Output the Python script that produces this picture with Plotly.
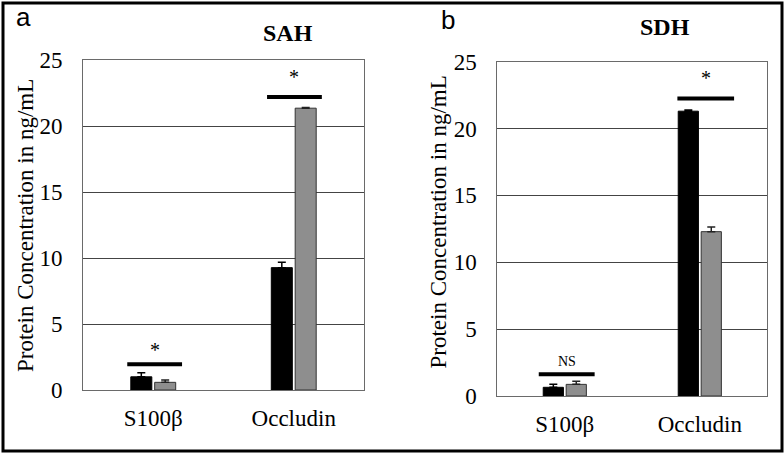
import plotly.graph_objects as go

# ---------------- data ----------------
categories = ["S100β", "Occludin"]

sah_black = [1.0, 9.27]
sah_black_err = [0.30, 0.40]
sah_gray = [0.58, 21.35]
sah_gray_err = [0.18, 0.05]

sdh_black = [0.65, 21.30]
sdh_black_err = [0.22, 0.08]
sdh_gray = [0.87, 12.29]
sdh_gray_err = [0.23, 0.35]

y_ticks = [0, 5, 10, 15, 20, 25]

# significance markers
sah_sig_level = [1.95, 22.2]
sah_sig_text = ["*", "*"]
sdh_sig_level = [1.62, 22.24]
sdh_sig_text = ["NS", "*"]

y_title = "Protein Concentration in ng/mL"

# ---------------- figure ----------------
W, H = 784, 455
SERIF = "Liberation Serif"
SANS = "Liberation Sans"
BLACK = "#000000"
GRAY = "#8e8e8e"

fig = go.Figure()


def add_bars(xa, ya, black, black_err, gray, gray_err):
    fig.add_trace(go.Bar(
        x=categories, y=black, xaxis=xa, yaxis=ya,
        marker=dict(color=BLACK, line=dict(color=BLACK, width=1)),
        error_y=dict(type="data", symmetric=False, array=black_err,
                     arrayminus=[0] * len(black_err), color=BLACK,
                     thickness=1.5, width=4),
        showlegend=False, offsetgroup="1", hoverinfo="skip",
    ))
    fig.add_trace(go.Bar(
        x=categories, y=gray, xaxis=xa, yaxis=ya,
        marker=dict(color=GRAY, line=dict(color="#333333", width=1)),
        error_y=dict(type="data", symmetric=False, array=gray_err,
                     arrayminus=[0] * len(gray_err), color="#222222",
                     thickness=1.5, width=4),
        showlegend=False, offsetgroup="2", hoverinfo="skip",
    ))


add_bars("x", "y", sah_black, sah_black_err, sah_gray, sah_gray_err)
add_bars("x2", "y2", sdh_black, sdh_black_err, sdh_gray, sdh_gray_err)

# significance bars and labels
sig_specs = [
    ("x", "y", sah_sig_level, sah_sig_text, [0.195, 0.195], [0.01, 1.005], [1.05, 1.5]),
    ("x2", "y2", sdh_sig_level, sdh_sig_text, [0.207, 0.21], [0.014, 1.044], [0.95, 1.55]),
]
for xr, yr, levels, texts, halfw, centers, toff in sig_specs:
    for i, lvl in enumerate(levels):
        fig.add_shape(type="line", xref=xr, yref=yr,
                      x0=centers[i] - halfw[i], x1=centers[i] + halfw[i],
                      y0=lvl, y1=lvl, line=dict(color=BLACK, width=4))
        is_ns = texts[i] == "NS"
        fig.add_annotation(xref=xr, yref=yr, x=centers[i],
                           y=lvl + toff[i], text=texts[i], showarrow=False,
                           xanchor="center", yanchor="middle",
                           font=dict(family=SERIF, size=14 if is_ns else 20, color=BLACK))

axis_common = dict(
    showline=True, linecolor="#6a6a6a", linewidth=1, mirror=True,
    tickfont=dict(family=SERIF, size=23, color=BLACK),
    automargin=False,
)
yaxis_common = dict(
    axis_common, range=[0, 25], tickvals=y_ticks, showgrid=True,
    gridcolor="#444444", gridwidth=1, zeroline=False, ticks="",
    ticklabelstandoff=15,
)
xaxis_common = dict(axis_common, showgrid=False, ticks="", ticklabelstandoff=7)

fig.update_layout(
    width=W, height=H, autosize=False,
    font=dict(family=SERIF, color=BLACK),
    margin=dict(l=0, r=0, t=0, b=0, autoexpand=False),
    paper_bgcolor="white", plot_bgcolor="white",
    barmode="group", bargap=0.66, bargroupgap=0.12,
    hovermode=False,
    xaxis=dict(xaxis_common, domain=[83 / W, 364 / W], anchor="y"),
    yaxis=dict(yaxis_common, domain=[1 - 390 / H, 1 - 60 / H], anchor="x"),
    xaxis2=dict(xaxis_common, domain=[497.3 / W, 767.3 / W], anchor="y2"),
    yaxis2=dict(yaxis_common, domain=[1 - 396 / H, 1 - 61.7 / H], anchor="x2"),
)

# y-axis titles
for xc, yc in [(25.5, 225.5), (437.5, 222)]:
    fig.add_annotation(xref="paper", yref="paper", x=xc / W, y=1 - yc / H, text=y_title,
                       textangle=-90, showarrow=False, xanchor="center", yanchor="middle",
                       font=dict(family=SERIF, size=23, color=BLACK))

# titles and panel letters
labels = [
    (288, 33, "<b>SAH</b>", SERIF, 24),
    (665, 27, "<b>SDH</b>", SERIF, 24),
    (23.5, 17, "a", SANS, 26),
    (447.5, 20, "b", SANS, 26),
]
for xc, yc, txt, fam, sz in labels:
    fig.add_annotation(xref="paper", yref="paper", x=xc / W, y=1 - yc / H, text=txt,
                       showarrow=False, xanchor="center", yanchor="middle",
                       font=dict(family=fam, size=sz, color=BLACK))

# outer frame
fig.add_shape(type="rect", xref="paper", yref="paper",
              x0=3 / W, x1=782 / W, y0=1 - 451 / H, y1=1 - 3 / H,
              line=dict(color=BLACK, width=3))

fig.write_html("out.html",
               config={"displayModeBar": False},
               post_script="document.body.style.margin='0';document.body.style.overflow='hidden';")
